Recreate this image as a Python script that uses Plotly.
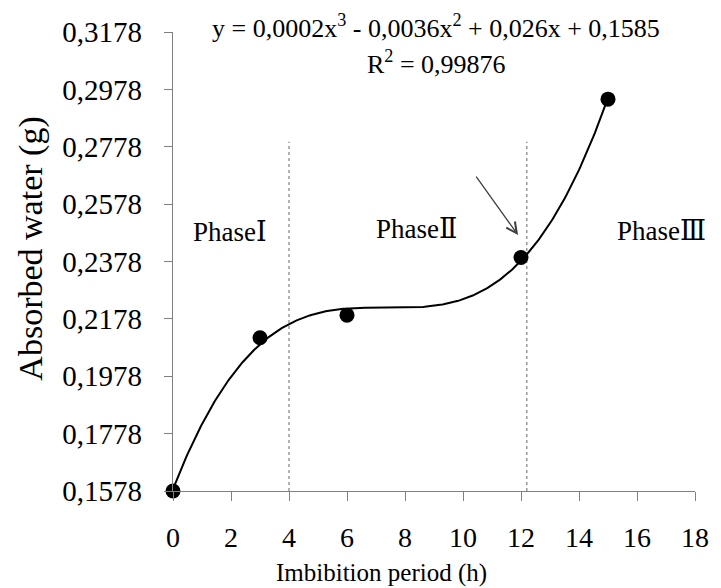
import numpy as np
import plotly.graph_objects as go

# Data
hours = [0, 3, 6, 12, 15]
water = [0.1578, 0.2112, 0.2191, 0.2392, 0.2944]
x_ticks = [0, 2, 4, 6, 8, 10, 12, 14, 16, 18]
y_ticks = [0.1578, 0.1778, 0.1978, 0.2178, 0.2378, 0.2578, 0.2778, 0.2978, 0.3178]
y_ticktext = ["0,1578", "0,1778", "0,1978", "0,2178", "0,2378", "0,2578", "0,2778", "0,2978", "0,3178"]
phase_bounds = [4, 12.2]
phase_line_top = 0.2795
phase_numerals = ["\u2160", "\u2161", "\u2162"]
equation = "y = 0,0002x<sup>3</sup> - 0,0036x<sup>2</sup> + 0,026x + 0,1585"
r2_text = "R<sup>2</sup> = 0,99876"

FONT = "Liberation Serif"

coef = np.polyfit(hours, water, 3)
xf = np.linspace(0, 15, 300)
yf = np.polyval(coef, xf)

fig = go.Figure()

for xb in phase_bounds:
    fig.add_trace(go.Scatter(x=[xb, xb], y=[y_ticks[0], phase_line_top], mode="lines",
                             line=dict(color="#808080", width=1.2, dash="dot"),
                             hoverinfo="skip", showlegend=False))

fig.add_trace(go.Scatter(x=xf, y=yf, mode="lines", line=dict(color="black", width=2),
                         showlegend=False, hoverinfo="skip"))
fig.add_trace(go.Scatter(x=hours, y=water, mode="markers",
                         marker=dict(color="black", size=15), cliponaxis=False,
                         showlegend=False))

phase_pos = [(1.98, 0.2484), (8.4, 0.2494), (16.83, 0.2487)]
anns = []
for (px, py), num in zip(phase_pos, phase_numerals):
    anns.append(dict(x=px, y=py, xref="x", yref="y",
                     text='Phase<span style="font-family:DejaVu Serif">' + num + '</span>',
                     showarrow=False,
                     font=dict(family=FONT, size=27, color="black"), xanchor="center", yanchor="middle"))

anns.append(dict(x=0.503, y=1.012, xref="paper", yref="paper", text=equation, showarrow=False,
                 font=dict(family=FONT, size=26, color="black"), xanchor="center", yanchor="middle"))
anns.append(dict(x=0.505, y=0.934, xref="paper", yref="paper", text=r2_text, showarrow=False,
                 font=dict(family=FONT, size=26, color="black"), xanchor="center", yanchor="middle"))
# arrow
anns.append(dict(x=11.9, y=0.2470, xref="x", yref="y", ax=-43, ay=-60, text="", showarrow=True,
                 arrowhead=5, arrowsize=1.6, arrowwidth=1.3, arrowcolor="#404040"))
# y title
anns.append(dict(x=-0.271, y=0.527, xref="paper", yref="paper", text="Absorbed water (g)",
                 textangle=-90, showarrow=False, font=dict(family=FONT, size=34, color="black"),
                 xanchor="center", yanchor="middle"))
# x title
anns.append(dict(x=0.40, y=-0.179, xref="paper", yref="paper", text="Imbibition period (h)",
                 showarrow=False, font=dict(family=FONT, size=25, color="black"),
                 xanchor="center", yanchor="middle"))

fig.update_layout(
    width=721, height=588,
    margin=dict(l=173, r=17, t=32, b=97),
    paper_bgcolor="white", plot_bgcolor="white",
    annotations=anns,
    font=dict(family=FONT, color="black"),
)
fig.update_xaxes(range=[0, 18], tickvals=x_ticks, ticks="outside", ticklen=9, tickcolor="#808080",
                 showline=True, linecolor="#808080", linewidth=1.2, showgrid=False, zeroline=False,
                 tickfont=dict(family=FONT, size=28, color="black"), ticklabelstandoff=12)
fig.update_yaxes(range=[y_ticks[0], y_ticks[-1]], tickvals=y_ticks, ticktext=y_ticktext,
                 ticks="outside", ticklen=8, tickcolor="#808080",
                 showline=True, linecolor="#808080", linewidth=1.2, showgrid=False, zeroline=False,
                 tickfont=dict(family=FONT, size=29, color="black"), ticklabelstandoff=16)

fig.write_html("out.html")
